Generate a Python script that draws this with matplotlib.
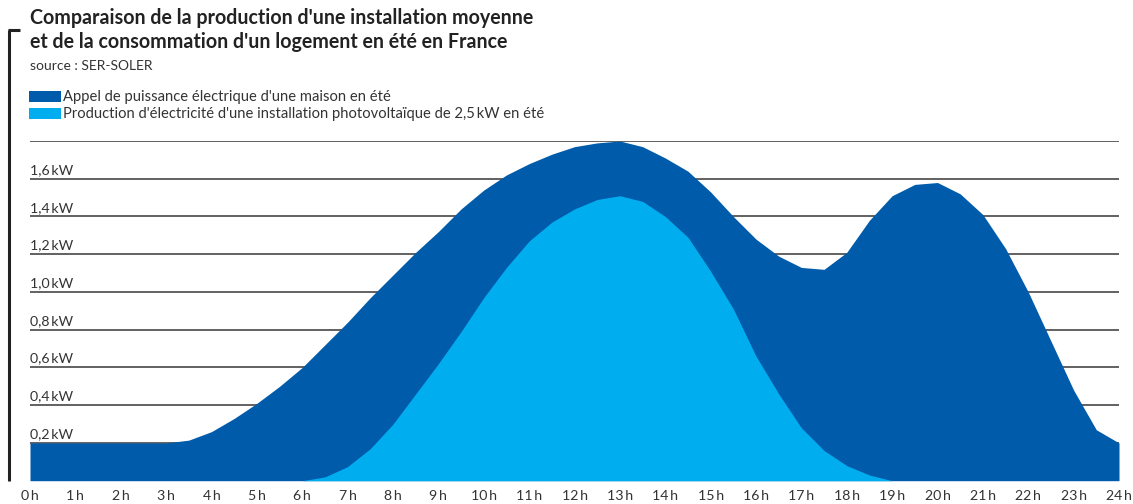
"""Production PV vs consommation d'un logement en été"""
import matplotlib
matplotlib.use("Agg")
import matplotlib.pyplot as plt
from matplotlib.lines import Line2D
from matplotlib.patches import Rectangle

plt.rcParams["font.family"] = ["Lato", "DejaVu Sans"]

# heures (pas d'une demi-heure)
heures = [h / 2 for h in range(49)]

# appel de puissance d'une maison (kW)
consommation = [
    0.20, 0.20, 0.20, 0.20, 0.20, 0.20, 0.20, 0.215, 0.26, 0.33,
    0.41, 0.50, 0.60, 0.72, 0.84, 0.97, 1.09, 1.21, 1.32, 1.44,
    1.54, 1.62, 1.68, 1.73, 1.77, 1.79, 1.80, 1.77, 1.71, 1.64,
    1.53, 1.40, 1.28, 1.19, 1.13, 1.12, 1.21, 1.38, 1.51, 1.57,
    1.58, 1.52, 1.41, 1.23, 1.00, 0.74, 0.48, 0.27, 0.20,
]

# production photovoltaïque 2,5 kW (kW)
production = [
    0, 0, 0, 0, 0, 0, 0, 0, 0, 0,
    0, 0, 0.0, 0.02, 0.075, 0.17, 0.30, 0.46, 0.62, 0.79,
    0.97, 1.13, 1.27, 1.37, 1.44, 1.49, 1.51, 1.48, 1.40, 1.29,
    1.11, 0.91, 0.66, 0.46, 0.28, 0.16, 0.08, 0.03, 0.0, 0,
    0, 0, 0, 0, 0, 0, 0, 0, 0,
]

y_ticks = [0.2, 0.4, 0.6, 0.8, 1.0, 1.2, 1.4, 1.6, 1.8]
y_labels = ["0,2\u2009kW", "0,4\u2009kW", "0,6\u2009kW", "0,8\u2009kW", "1,0\u2009kW",
            "1,2\u2009kW", "1,4\u2009kW", "1,6\u2009kW", ""]
x_ticks = list(range(25))
x_labels = [f"{h}\u2009h" for h in x_ticks]

FONCE = "#005BAA"
CLAIR = "#00AEEF"
TXT = "#333333"

W, H = 1133, 504
fig = plt.figure(figsize=(W / 100, H / 100), dpi=100)
ax = fig.add_axes([30 / W, (H - 480.7) / H, (1119 - 30) / W, (480.7 - 141) / H])

for y in y_ticks:
    ax.axhline(y, color="#555555", lw=1.3, zorder=1)

ax.fill_between(heures, consommation, color=FONCE, lw=0, zorder=2)
ax.fill_between(heures, production, color=CLAIR, lw=0, zorder=3)

ax.set_xlim(0, 24)
ax.set_ylim(0, 1.8)
ax.set_axis_off()

for y, lab in zip(y_ticks, y_labels):
    ax.text(0, y + 0.015, lab, ha="left", va="bottom", fontsize=10.2, color=TXT)
for x, lab in zip(x_ticks, x_labels):
    ax.text(x, -0.05, lab, ha="center", va="top", fontsize=10.2, color=TXT)

# titre et source
fig.text(30 / W, 1 - 18 / H, "Comparaison de la production d'une installation moyenne",
         fontsize=14.1, fontweight="bold", color="#222222", va="center")
fig.text(30 / W, 1 - 42 / H, "et de la consommation d'un logement en été en France",
         fontsize=14.1, fontweight="bold", color="#222222", va="center")
fig.text(30 / W, 1 - 66 / H, "source : SER-SOLER", fontsize=10, color=TXT, va="center")

# légende
fig.add_artist(Rectangle((29 / W, 1 - 102 / H), 32 / W, 11 / H, transform=fig.transFigure,
                         color=FONCE, lw=0))
fig.add_artist(Rectangle((29 / W, 1 - 119 / H), 32 / W, 11 / H, transform=fig.transFigure,
                         color=CLAIR, lw=0))
fig.text(63 / W, 1 - 97 / H, "Appel de puissance électrique d'une maison en été",
         fontsize=10.6, color=TXT, va="center")
fig.text(63 / W, 1 - 114 / H,
         "Production d'électricité d'une installation photovoltaïque de 2,5\u2009kW en été",
         fontsize=10.6, color=TXT, va="center")

# cadre à gauche
fig.add_artist(Line2D([9 / W, 9 / W], [1 - 481 / H, 1 - 30 / H], transform=fig.transFigure,
                      color="#222222", lw=2.2, solid_capstyle="butt"))
fig.add_artist(Line2D([8 / W, 20 / W], [1 - 30 / H, 1 - 30 / H], transform=fig.transFigure,
                      color="#222222", lw=2.2, solid_capstyle="butt"))

fig.savefig("out.png", dpi=100)
